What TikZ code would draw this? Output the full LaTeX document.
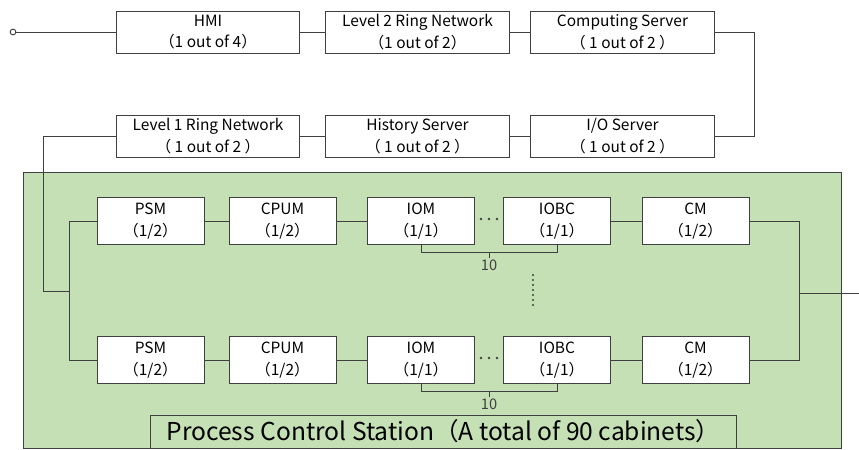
\documentclass[tikz,border=0pt]{standalone}
\usepackage{fontspec}
\setmainfont{Noto Sans CJK SC}
\usetikzlibrary{positioning,calc}
\definecolor{StationGreen}{RGB}{197,224,180}
\definecolor{LineGray}{RGB}{64,64,64}

\begin{document}
\begin{tikzpicture}[x=0.03cm,y=-0.03cm, wire/.style={LineGray,line width=0.8pt}, unit/.style={draw=LineGray,fill=white,line width=0.8pt,minimum width=5.5cm,minimum height=1.26cm,inner sep=0pt,align=center,font=\fontsize{13.2}{18.5}\selectfont}, module/.style={unit,minimum width=3.21cm,minimum height=1.41cm}, count/.style={inner sep=1pt,font=\fontsize{12.5}{14}\selectfont}]

\useasboundingbox (0,0) rectangle (859,450);

% the station frame
\draw[wire,fill=StationGreen] (23,172) rectangle (841,448);
\node[draw=LineGray,line width=0.8pt,minimum width=17.58cm,minimum height=0.99cm,inner sep=0pt,font=\fontsize{21}{24}\selectfont] (pcs) at (443.5,431.5) {Process Control Station（A total of 90 cabinets）};

% upper chain
\node[circle,draw=LineGray,line width=0.8pt,inner sep=0pt,minimum size=0.17cm] (start) at (13,32) {};
\node[unit] (hmi) at (208,32) {HMI\\（1 out of 4）};
\node[unit] (l2) at (417.5,32) {Level 2 Ring Network\\（1 out of 2）};
\node[unit] (cs) at (622.5,32) {Computing Server\\（ 1 out of 2 ）};
\node[unit] (l1) at (208,136) {Level 1 Ring Network\\（ 1 out of 2 ）};
\node[unit] (hist) at (417.5,136) {History Server\\（ 1 out of 2 ）};
\node[unit] (io) at (622.5,136) {I/O Server\\（ 1 out of 2 ）};

\draw[wire] (start) -- (hmi) -- (l2) -- (cs);
\draw[wire] (cs.east) -- ++(40,0) |- (io.east);
\draw[wire] (io) -- (hist) -- (l1);

% two rows of cabinet modules
\foreach \r/\y in {1/221,2/360}{
  \node[module] (psm\r) at (150.5,\y) {PSM\\（1/2）};
  \node[module] (cpum\r) at (282.5,\y) {CPUM\\（1/2）};
  \node[module] (iom\r) at (421,\y) {IOM\\（1/1）};
  \node[module] (iobc\r) at (557,\y) {IOBC\\（1/1）};
  \node[module] (cm\r) at (695.5,\y) {CM\\（1/2）};
  \draw[wire] (psm\r) -- (cpum\r) -- (iom\r);
  \draw[wire] (iobc\r) -- (cm\r);
  \foreach \dx in {-8,0,8} \fill[LineGray] ({489+\dx},{\y-2}) circle (1.2pt);
  % bracket for the 10 modules
  \draw[wire] (iom\r.south) -- ++(0,7) -| (iobc\r.south);
  \draw[wire] ($(iom\r.south)!0.5!(iobc\r.south)$) ++(0,7) -- ++(0,6) node[count,below=0pt] (num\r) {10};
}

% vertical dots
\foreach \t in {275,280,...,305} \fill[LineGray] (533,\t) circle (0.9pt);

% buses
\coordinate (lbus) at (70,291);
\coordinate (rbus) at (799,293);
\coordinate (out) at (859,293);
\draw[wire] (l1.west) -- ++(-72,0) |- (lbus);
\draw[wire] (psm1.west) -- ++(-27,0) |- (psm2.west);
\draw[wire] (cm1.east) -- ++(50,0) |- (cm2.east);
\draw[wire] (rbus) -- (out);

\end{tikzpicture}
\end{document}
